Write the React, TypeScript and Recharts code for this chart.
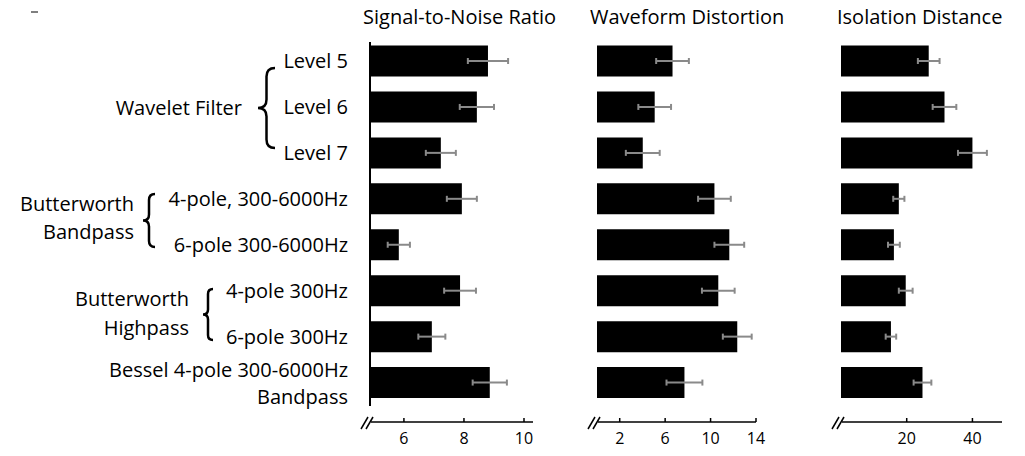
import React from "react";
import { BarChart, Bar, XAxis, YAxis, ErrorBar } from "recharts";

// filter settings, top to bottom
const categories = [
  "Level 5",
  "Level 6",
  "Level 7",
  "4-pole, 300-6000Hz",
  "6-pole 300-6000Hz",
  "4-pole 300Hz",
  "6-pole 300Hz",
  "Bessel 4-pole 300-6000Hz\nBandpass",
];

const snr = [8.8, 8.43, 7.23, 7.93, 5.83, 7.87, 6.93, 8.86];
const snrErr = [0.67, 0.57, 0.5, 0.5, 0.37, 0.53, 0.45, 0.57];

const waveform = [6.65, 5.08, 4.03, 10.34, 11.65, 10.68, 12.35, 7.7];
const waveformErr = [1.44, 1.44, 1.49, 1.44, 1.31, 1.44, 1.27, 1.58];

const isolation = [26.7, 31.5, 40.0, 17.6, 16.1, 19.7, 15.2, 24.8];
const isolationErr = [3.3, 3.6, 4.4, 1.7, 1.8, 2.1, 1.6, 2.7];

const snrTicks = [6, 8, 10];
const waveformTicks = [2, 6, 10, 14];
const isolationTicks = [20, 40];

const rows = categories.map((name, i) => ({
  name,
  snr: snr[i],
  snrErr: snrErr[i],
  waveform: waveform[i],
  waveformErr: waveformErr[i],
  isolation: isolation[i],
  isolationErr: isolationErr[i],
}));

const FONT = '"Open Sans", sans-serif';
const H = 456;
const TOP = 42;
const X_AXIS_H = 50;
const AXIS_DROP = 16;

function BreakMarks(props: any) {
  const vb = props.viewBox || {};
  const x0 = vb.x;
  const y = vb.y + AXIS_DROP;
  return (
    <g>
      <line x1={x0 - 9} y1={y + 7} x2={x0 - 2} y2={y - 5} stroke="#000" strokeWidth={1.5} />
      <line x1={x0 - 4} y1={y + 7} x2={x0 + 3} y2={y - 5} stroke="#000" strokeWidth={1.5} />
      <line x1={x0 + 1} y1={y} x2={x0 + vb.width} y2={y} stroke="#000" strokeWidth={1.6} />
    </g>
  );
}

function XTick(props: any) {
  const { x, y, payload } = props;
  return (
    <g>
      <line x1={x} x2={x} y1={y - 4} y2={y} stroke="#000" strokeWidth={1.5} />
      <text x={x} y={y + 22} textAnchor="middle" fontSize={16} fontFamily={FONT} fill="#000">
        {payload.value}
      </text>
    </g>
  );
}

function CatTick(props: any) {
  const { x, y, payload } = props;
  const lines = String(payload.value).split("\n");
  const lh = 27;
  const start = y + 7 - ((lines.length - 1) * lh) / 2;
  return (
    <text x={x} textAnchor="end" fontSize={20} fontFamily={FONT} fill="#000">
      {lines.map((l, i) => (
        <tspan key={i} x={x} y={start + i * lh}>
          {l}
        </tspan>
      ))}
    </text>
  );
}

interface PanelProps {
  left: number;
  width: number;
  marginLeft: number;
  marginRight: number;
  dataKey: string;
  errKey: string;
  domain: [number, number];
  ticks: number[];
  labels?: boolean;
}

function Panel({ left, width, marginLeft, marginRight, dataKey, errKey, domain, ticks, labels }: PanelProps) {
  return (
    <div style={{ position: "absolute", left, top: 0 }}>
      <BarChart
        width={width}
        height={H}
        data={rows}
        layout="vertical"
        margin={{ top: TOP, right: marginRight, bottom: 0, left: marginLeft }}
      >
        <XAxis
          type="number"
          domain={domain}
          allowDataOverflow
          ticks={ticks}
          interval={0}
          height={X_AXIS_H}
          axisLine={false}
          tickLine={false}
          tickSize={AXIS_DROP}
          tickMargin={0}
          tick={<XTick />}
          label={(p: any) => <BreakMarks {...p} />}
        />
        <YAxis
          type="category"
          dataKey="name"
          width={labels ? 370 : 0}
          padding={{ top: -3.5, bottom: 0 }}
          axisLine={{ stroke: "#000", strokeWidth: 2 }}
          tickLine={false}
          tickSize={0}
          tickMargin={22}
          interval={0}
          tick={labels ? <CatTick /> : false}
        />
        <Bar dataKey={dataKey} fill="#000" barSize={31} isAnimationActive={false}>
          <ErrorBar dataKey={errKey} direction="x" width={3} stroke="#8a8a8a" strokeWidth={2} />
        </Bar>
      </BarChart>
    </div>
  );
}

function brace(x: number, y1: number, y2: number, w: number) {
  const ym = (y1 + y2) / 2;
  const xm = x + w / 2;
  const q = w / 2;
  return `M${x + w},${y1} Q${xm},${y1} ${xm},${y1 + q} L${xm},${ym - q} Q${xm},${ym} ${x},${ym} Q${xm},${ym} ${xm},${ym + q} L${xm},${y2 - q} Q${xm},${y2} ${x + w},${y2}`;
}

const txt = { fontFamily: FONT, fontSize: 20, fill: "#000" };

export default function App() {
  return (
    <div style={{ position: "absolute", left: 0, top: 0, width: 1025, height: H, background: "#fff" }}>
      <Panel left={0} width={540} marginLeft={0} marginRight={7} dataKey="snr" errKey="snrErr" domain={[4.87, 10.3]} ticks={snrTicks} labels />
      <Panel left={560} width={224} marginLeft={37} marginRight={28} dataKey="waveform" errKey="waveformErr" domain={[0, 14]} ticks={waveformTicks} />
      <Panel left={800} width={220} marginLeft={41} marginRight={18} dataKey="isolation" errKey="isolationErr" domain={[0, 49]} ticks={isolationTicks} />
      <svg width={1025} height={H} style={{ position: "absolute", left: 0, top: 0, pointerEvents: "none" }}>
        <line x1={31} y1={12} x2={38} y2={12} stroke="#555" strokeWidth={1.5} />
        <text x={363} y={24} {...txt}>Signal-to-Noise Ratio</text>
        <text x={590} y={24} {...txt}>Waveform Distortion</text>
        <text x={837} y={24} {...txt}>Isolation Distance</text>

        <text x={242} y={115} textAnchor="end" {...txt}>Wavelet Filter</text>
        <path d={brace(258, 68, 148, 17)} fill="none" stroke="#000" strokeWidth={2.5} />

        <text x={134} y={211} textAnchor="end" {...txt}>Butterworth</text>
        <text x={134} y={239} textAnchor="end" {...txt}>Bandpass</text>
        <path d={brace(143, 194, 247, 12)} fill="none" stroke="#000" strokeWidth={2.5} />

        <text x={189} y={306} textAnchor="end" {...txt}>Butterworth</text>
        <text x={189} y={335} textAnchor="end" {...txt}>Highpass</text>
        <path d={brace(203, 289, 340, 10)} fill="none" stroke="#000" strokeWidth={2.5} />
      </svg>
    </div>
  );
}
